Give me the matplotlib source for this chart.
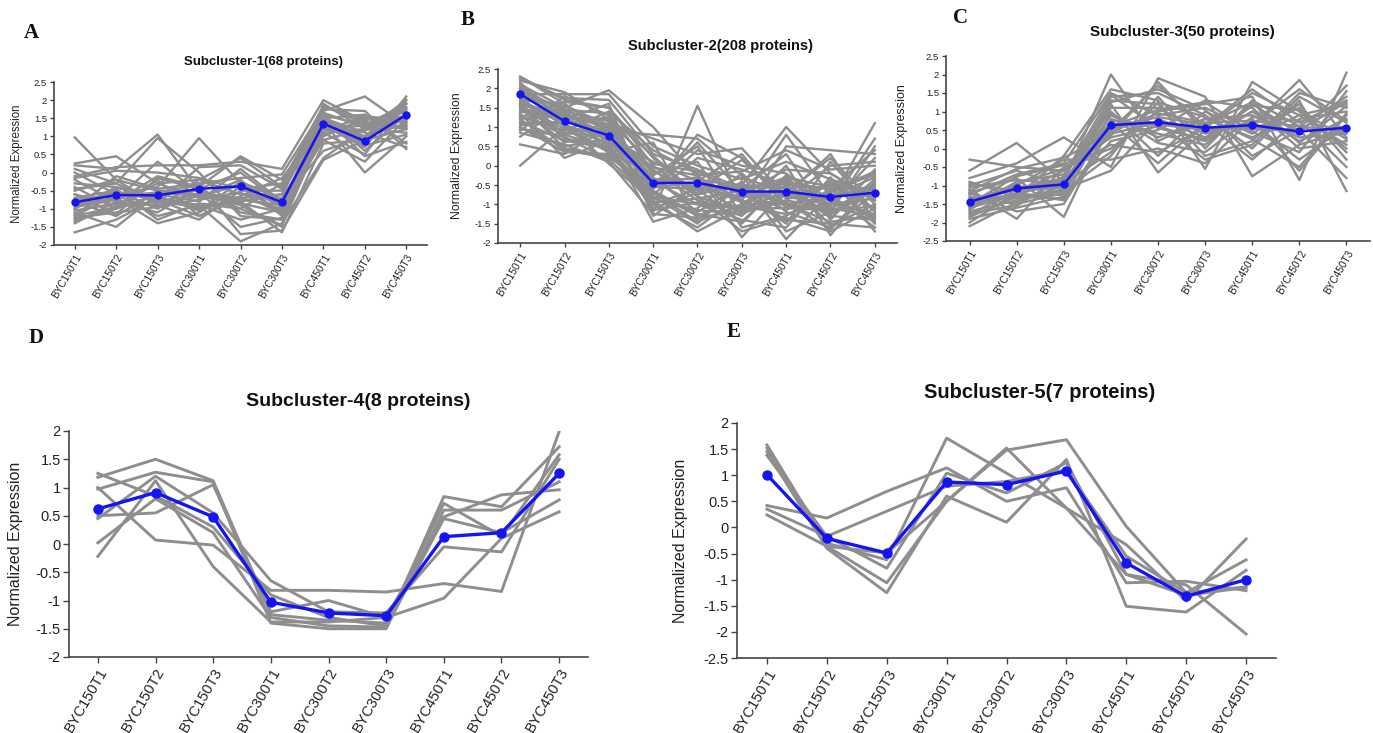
import matplotlib
matplotlib.use('Agg')
import matplotlib.pyplot as plt

plt.rcParams['font.family'] = ['Liberation Sans', 'DejaVu Sans']

W, H = 1373, 733

samples = ['BYC150T1', 'BYC150T2', 'BYC150T3', 'BYC300T1', 'BYC300T2',
           'BYC300T3', 'BYC450T1', 'BYC450T2', 'BYC450T3']

# mean profile (blue) of each subcluster
mean_1 = [-0.82, -0.62, -0.63, -0.45, -0.38, -0.82, 1.35, 0.87, 1.6]
mean_2 = [1.85, 1.15, 0.78, -0.45, -0.44, -0.67, -0.67, -0.81, -0.70]
mean_3 = [-1.44, -1.08, -0.97, 0.63, 0.71, 0.56, 0.63, 0.46, 0.56]
mean_4 = [0.62, 0.91, 0.48, -1.03, -1.22, -1.27, 0.13, 0.20, 1.25]
mean_5 = [1.01, -0.21, -0.49, 0.87, 0.82, 1.08, -0.68, -1.32, -1.00]

# individual protein profiles (grey)
proteins_1 = [
    [0.97, -0.2, -0.5, -0.6, -0.7, -1.0, 0.9, 1.2, 1.5],
    [0.25, 0.45, -0.3, -0.2, 0.4, -0.4, 1.8, 1.5, 1.4],
    [0.2, 0.1, 1.05, -0.5, -0.8, -0.6, 1.6, 1.3, 1.9],
    [0.1, -0.3, 0.95, 0.0, -1.2, -1.3, 1.3, 0.7, 2.1],
    [0.0, -0.6, -0.4, 0.95, -0.3, -0.9, 1.2, 1.0, 1.6],
    [-0.1, 0.15, 0.2, 0.2, 0.3, 0.1, 2.0, 1.4, 1.2],
    [-0.2, -0.8, -0.1, -0.4, 0.45, -0.2, 1.5, 1.6, 0.8],
    [-0.3, -0.4, -0.7, -0.9, -1.9, -1.4, 0.4, 1.2, 1.7],
    [-0.4, -1.0, -0.6, -0.3, -1.7, -1.6, 0.35, 0.9, 1.8],
    [-0.5, -0.2, -0.9, -1.3, -0.5, -0.5, 1.7, 2.1, 1.3],
    [-0.6, -0.9, -0.3, -0.7, -0.2, -1.2, 1.4, 0.0, 1.0],
    [-0.7, -0.5, -1.0, -0.2, -0.6, -0.7, 1.1, 0.5, 2.0],
    [-0.8, -1.2, -0.5, -0.5, -1.0, -0.3, 0.9, 0.3, 1.5],
    [-0.9, -0.7, -1.4, -1.1, -0.4, -1.1, 1.5, 1.1, 0.7],
    [-1.0, -0.4, -0.8, -0.6, -0.9, -1.5, 1.9, 1.2, 1.1],
    [-1.1, -1.5, -0.6, -0.8, 0.1, -0.8, 1.3, 0.8, 1.9],
    [-1.2, -0.6, -1.2, -0.9, -1.3, -1.0, 1.0, 1.5, 1.4],
    [-1.3, -1.0, -0.2, -1.2, -0.7, -0.6, 1.6, 0.6, 1.6],
    [-1.4, -0.8, -1.1, -0.4, -1.1, -1.3, 1.2, 1.3, 1.8],
    [-1.65, -1.3, -0.7, -1.0, -0.8, -1.65, 0.8, 0.9, 1.2],
    [-1.0, -0.1, -0.45, -0.3, -0.15, -0.05, 1.75, 1.7, 0.65],
    [-0.75, -0.65, -0.55, -0.65, -0.35, -0.95, 1.45, 1.0, 1.35],
    [-1.25, -1.1, -0.95, -0.75, -0.55, -1.15, 1.05, 1.45, 1.55],
    [-0.45, -0.3, -0.85, 0.15, 0.2, -0.45, 1.65, 1.25, 1.75],
    [-0.95, -0.75, 0.3, -0.55, -1.5, -1.25, 1.35, 0.75, 1.05],
    [-1.35, -0.95, -0.65, -1.05, -0.25, -0.75, 0.6, 1.0, 1.9],
    [-0.15, 0.05, 0.0, -0.15, -0.45, -0.3, 1.85, 1.35, 1.25],
    [-1.15, -0.45, -1.3, -0.85, -1.0, -1.45, 1.15, 1.55, 1.45],
    [-0.6, -1.15, -0.15, -0.45, 0.0, -0.85, 1.55, 0.45, 0.85],
    [-0.85, -0.55, -0.75, -1.2, -0.65, -0.15, 1.25, 1.15, 2.0],
    [-1.05, -0.85, -0.9, -0.65, -0.85, -1.1, 1.1, 1.2, 1.3],
    [-1.2, -0.95, -0.8, -0.95, -0.75, -0.9, 1.4, 0.95, 1.5],
]

proteins_2 = [
    [2.3, 1.7, 1.5, 0.2, -0.8, -1.2, -0.9, -1.1, -1.3],
    [2.2, 1.9, 1.2, -0.6, 0.8, 0.2, -1.0, -0.8, -0.5],
    [2.1, 1.5, 1.95, 1.0, -0.3, -0.9, -1.4, -1.5, -1.6],
    [2.0, 1.0, 0.8, -0.3, -1.2, -0.5, 1.0, -0.2, -0.9],
    [1.9, 1.3, 0.5, -1.0, -0.6, -1.5, -0.3, -1.2, 0.5],
    [1.8, 0.8, 1.1, 0.7, 0.3, 0.45, -0.8, -0.5, -1.1],
    [1.7, 1.6, 0.3, -0.8, -1.5, -0.4, -1.9, -0.7, -0.2],
    [1.6, 1.2, 1.6, -1.2, 1.55, -1.0, -0.5, -1.3, -1.4],
    [1.5, 0.6, 0.9, -0.1, -0.9, -1.3, 0.5, 0.4, 0.3],
    [1.4, 1.4, 0.6, -1.45, -1.1, -0.2, -1.2, -1.6, -0.7],
    [1.3, 0.9, 1.4, 0.4, -0.2, -1.85, -0.6, -0.9, 1.1],
    [1.2, 0.4, 0.2, -0.5, 0.6, -0.7, -1.5, 0.1, -1.2],
    [1.1, 1.1, 0.05, -0.9, -1.7, -1.1, 0.0, -1.8, -0.4],
    [1.0, 0.5, 0.7, 0.1, -0.4, 0.3, -1.1, -0.4, -1.5],
    [0.9, 1.8, 1.3, -0.7, -1.3, -0.8, -0.4, -1.0, 0.7],
    [0.55, 0.3, 1.0, -0.2, 0.1, -1.6, -1.3, -0.6, -0.8],
    [0.0, 1.0, 0.4, -1.1, -0.7, -0.3, -0.7, 0.2, -1.0],
    [2.25, 1.75, 1.7, 0.3, -0.1, -0.6, 0.3, -1.4, -0.1],
    [1.95, 1.45, 1.0, -0.4, -1.0, -1.4, -1.6, -0.3, -1.7],
    [1.75, 0.7, 0.5, -0.6, 0.4, 0.0, -0.2, -1.1, -0.6],
    [1.65, 1.25, 1.2, -1.3, -0.5, -1.2, -0.9, 0.0, 0.1],
    [1.55, 0.95, 0.35, 0.6, -1.4, -0.5, -1.0, -1.45, -1.3],
    [1.45, 1.35, 0.8, -0.45, -0.3, -0.9, 0.8, -0.8, -0.3],
    [1.35, 0.2, 0.65, -0.75, 0.2, -0.1, -0.5, -0.6, 0.4],
    [1.25, 1.65, 1.5, 0.0, -0.8, -1.7, -1.35, -1.7, -1.1],
    [1.15, 0.65, 0.45, -1.0, -1.6, -0.75, -0.1, -0.2, -0.9],
    [1.05, 1.15, 0.9, 0.8, 0.7, -0.25, -1.7, -1.2, -0.55],
    [0.95, 0.75, 0.15, -0.85, -1.15, -1.25, -0.75, 0.3, -1.45],
    [0.75, 1.55, 1.05, -0.35, -0.55, -0.55, -1.05, -1.05, 0.2],
    [2.15, 1.05, 0.55, -1.15, -0.95, -1.05, -1.25, -0.95, -1.25],
    [1.85, 1.85, 1.85, 0.5, 0.0, -0.35, 0.1, -0.35, -0.75],
    [1.6, 0.45, 0.25, -0.65, -1.25, -1.45, -0.35, -1.55, -1.0],
    [1.2, 1.45, 1.35, -0.15, -0.65, 0.15, -0.85, -0.75, -1.6],
    [2.05, 1.35, 0.95, -0.55, -0.45, -0.95, -0.55, -1.35, -0.35],
    [1.5, 0.85, 0.75, -0.95, -0.85, -0.65, -1.15, -0.45, -1.15],
    [0.85, 0.55, 0.1, -1.25, -1.35, -1.15, -0.65, -1.25, -0.65],
    [1.9, 1.1, 1.25, 0.25, -0.75, -0.45, -1.45, -0.65, -0.15],
    [1.4, 1.2, 0.65, -0.25, 0.5, -1.3, -0.25, -0.85, -1.35],
    [2.3, 1.6, 0.85, -0.05, -0.25, -0.15, 0.4, -0.1, 0.0],
    [1.0, 0.35, 0.3, -0.7, -1.45, -1.0, -0.95, -1.65, -0.45],
    [1.7, 1.05, 0.7, -0.55, -0.6, -0.8, -0.8, -1.0, -0.85],
    [2.0, 1.25, 1.05, -0.35, -0.35, -0.55, -0.45, -0.6, -0.6],
    [1.3, 0.8, 0.45, -0.8, -1.0, -1.1, -1.1, -1.15, -1.05],
    [1.55, 1.4, 1.15, 0.05, -0.15, -0.7, -0.3, -0.55, -0.25],
]

proteins_3 = [
    [-0.3, -0.5, -0.6, 0.3, 0.6, 0.2, 1.0, 0.5, -0.8],
    [-0.6, 0.15, -0.9, 2.0, 0.2, 0.8, 0.3, 0.9, 1.2],
    [-0.8, -0.4, 0.3, -0.5, 1.9, 1.4, -0.75, 0.1, 0.5],
    [-0.9, -1.3, -0.2, 1.6, 1.3, -0.55, 1.8, 1.0, 0.0],
    [-1.0, -0.6, -1.0, 1.2, -0.65, 0.5, 0.6, 1.85, 0.3],
    [-1.1, -1.9, -0.5, 0.0, 1.0, 1.2, 1.4, -0.85, 2.05],
    [-1.2, -0.8, -1.85, 0.8, 0.4, 0.1, 1.2, 0.4, 1.7],
    [-1.3, -1.5, -1.2, 1.4, 1.5, 0.9, 0.0, 1.3, -1.15],
    [-1.4, -1.0, -0.3, -0.3, 0.0, -0.4, 0.8, -0.6, 0.9],
    [-1.5, -1.2, -1.4, 0.5, 1.7, 0.6, 1.6, 0.7, 1.3],
    [-1.6, -0.9, -0.7, 1.0, -0.2, 1.0, 0.4, 1.2, -0.3],
    [-1.7, -1.4, -1.1, -0.6, 0.8, 0.3, 1.0, 0.2, 0.8],
    [-1.8, -1.1, -0.8, 1.3, 1.2, -0.2, 0.2, 1.5, 1.1],
    [-1.9, -1.6, -1.3, 0.2, 0.5, 1.3, 1.1, 0.0, 0.2],
    [-2.0, -1.2, -0.6, 0.7, -0.4, 0.7, -0.3, 0.8, 1.0],
    [-2.1, -1.45, -1.0, 1.1, 1.1, 0.4, 0.7, -0.3, 0.6],
    [-1.25, -0.7, -0.4, 1.5, 0.9, 1.1, 0.5, 1.1, -0.1],
    [-1.35, -1.35, -1.15, -0.2, 1.4, 0.0, 1.3, 0.6, 1.4],
    [-1.55, -1.05, -0.9, 0.9, 0.3, 0.8, 0.9, 0.3, 0.4],
    [-1.15, -0.55, -0.25, 0.4, 0.7, -0.3, 0.1, 1.4, 0.7],
    [-1.45, -1.25, -1.25, 1.25, 1.6, 1.05, -0.2, 0.5, 1.25],
    [-1.65, -0.95, -0.55, 0.1, -0.1, 0.55, 1.5, 0.9, 0.1],
    [-0.95, -1.15, -1.05, 0.6, 1.05, 1.25, 0.45, -0.1, 1.55],
    [-1.75, -1.55, -0.75, 1.45, 0.55, 0.25, 1.15, 1.05, 0.25],
    [-1.05, -0.85, -0.95, -0.1, 1.25, 0.85, 0.25, -0.5, 0.95],
    [-1.85, -1.3, -1.35, 0.95, 0.15, -0.1, 0.85, 0.75, -0.5],
    [-1.5, -0.75, -0.45, 0.35, 1.8, 0.45, 0.65, 1.6, 0.75],
    [-1.2, -1.7, -1.5, 0.55, 0.85, 0.65, 1.25, 0.15, 1.15],
    [-1.4, -1.1, -1.0, 0.75, 0.65, 0.5, 0.55, 0.45, 0.6],
    [-1.6, -1.25, -0.85, 0.45, 0.95, 0.7, 0.75, 0.6, 0.45],
]

proteins_4 = [
    [1.25, 0.85, 0.3, -0.9, -1.3, -1.45, 0.84, 0.66, 1.72],
    [1.18, 1.5, 1.12, -1.25, -1.35, -1.4, 0.72, 0.14, 1.58],
    [1.0, 0.07, -0.02, -0.82, -0.82, -0.85, -0.7, -0.84, 1.99],
    [0.97, 1.27, 1.1, -1.4, -1.5, -1.5, 0.6, 0.6, 1.1],
    [0.5, 0.55, 1.05, -1.2, -1.0, -1.3, 0.48, 0.87, 0.96],
    [0.45, 1.2, 0.55, -0.65, -1.2, -1.22, -0.05, -0.14, 1.5],
    [0.02, 0.8, 0.2, -1.3, -1.45, -1.47, 0.45, 0.2, 0.78],
    [-0.22, 1.12, -0.4, -1.38, -1.38, -1.3, -0.96, 0.1, 0.57],
]

proteins_5 = [
    [1.58, -0.3, -0.62, 1.71, 1.04, 0.37, -0.33, -1.41, -0.22],
    [1.52, -0.36, -1.06, 0.5, 1.48, 1.68, 0.02, -1.25, -1.14],
    [1.45, -0.4, -1.25, 0.6, 0.1, 1.3, -1.51, -1.62, -0.82],
    [1.38, -0.17, -0.78, 1.04, 0.66, 1.24, -0.9, -1.1, -2.04],
    [0.42, 0.18, 0.69, 1.14, 0.5, 0.76, -1.06, -1.03, -1.21],
    [0.35, -0.17, 0.31, 0.79, 0.88, 1.1, -0.55, -1.25, -0.62],
    [0.24, -0.36, -0.49, 0.5, 1.52, 0.37, -0.9, -1.3, -1.15],
]

titles = ['Subcluster-1(68 proteins)', 'Subcluster-2(208 proteins)',
          'Subcluster-3(50 proteins)', 'Subcluster-4(8 proteins)',
          'Subcluster-5(7 proteins)']
letters = ['A', 'B', 'C', 'D', 'E']


def px_box(left, top, right, bottom):
    return [left / W, 1 - bottom / H, (right - left) / W, (bottom - top) / H]


panels = [
    # axes box in px, y range, title / letter position in px, font sizes, ylabel offset
    dict(box=(54, 82, 427, 245), ylim=(-2, 2.5), tpos=(263, 62), tsize=9.5,
         lpos=(31, 33), fs=6.8, ls=8.3, loff=31, big=False),
    dict(box=(498, 69, 897, 243), ylim=(-2, 2.5), tpos=(720, 46), tsize=10.5,
         lpos=(468, 20), fs=6.8, ls=8.8, loff=35, big=False),
    dict(box=(946, 56, 1370, 241), ylim=(-2.5, 2.5), tpos=(1182, 32), tsize=11,
         lpos=(961, 18), fs=6.8, ls=9.0, loff=38, big=False),
    dict(box=(69, 431, 588, 657), ylim=(-2, 2), tpos=(358, 402), tsize=14,
         lpos=(36, 338), fs=10.5, ls=11.5, loff=46, big=True),
    dict(box=(737, 423, 1276, 658), ylim=(-2.5, 2), tpos=(1040, 392), tsize=14.5,
         lpos=(734, 332), fs=10.5, ls=11.5, loff=49, big=True),
]

all_proteins = [proteins_1, proteins_2, proteins_3, proteins_4, proteins_5]
all_means = [mean_1, mean_2, mean_3, mean_4, mean_5]

fig = plt.figure(figsize=(W / 100, H / 100), dpi=100)
x = list(range(len(samples)))

for p, prots, mean, title, letter in zip(panels, all_proteins, all_means, titles, letters):
    left, top, right, bottom = p['box']
    ax = fig.add_axes(px_box(left, top, right, bottom))
    grey_lw = 2.1 if p['big'] else 1.7
    for row in prots:
        ax.plot(x, row, color='#8e8e8e', lw=grey_lw, zorder=1)
    ax.plot(x, mean, color='#1414f5', lw=2.4 if p['big'] else 1.8,
            marker='o', ms=6.5 if p['big'] else 5, zorder=3)

    lo, hi = p['ylim']
    ax.set_ylim(lo, hi)
    ax.set_xlim(-0.5, len(samples) - 0.5)
    ticks = [lo + 0.5 * i for i in range(int(round((hi - lo) / 0.5)) + 1)]
    ax.set_yticks(ticks)
    ax.set_yticklabels([f'{t:g}' for t in ticks], fontsize=p['fs'], color='#222222')
    ax.set_xticks(x)
    ax.set_xticklabels(samples, rotation=60, ha='right', rotation_mode='anchor',
                       fontsize=p['fs'] + (0.4 if not p['big'] else 0), color='#222222')
    for s in ['top', 'right']:
        ax.spines[s].set_visible(False)
    for s in ['left', 'bottom']:
        ax.spines[s].set_color('#444444')
        ax.spines[s].set_linewidth(1.2)
    ax.tick_params(direction='out', length=4 if p['big'] else 3, width=1, color='#444444',
                   pad=2)
    ax.set_ylabel('Normalized Expression', fontsize=p['ls'], color='#222222')
    ax.yaxis.set_label_coords(-p['loff'] / (right - left), 0.5)

    tx, ty = p['tpos']
    fig.text(tx / W, 1 - ty / H, title, ha='center', va='center',
             fontsize=p['tsize'], fontweight='bold', color='#111111')
    lx, ly = p['lpos']
    fig.text(lx / W, 1 - ly / H, letter, ha='center', va='center',
             fontsize=15, fontweight='bold', family='Liberation Serif', color='#111111')

fig.savefig('out.png', dpi=100, facecolor='white')
